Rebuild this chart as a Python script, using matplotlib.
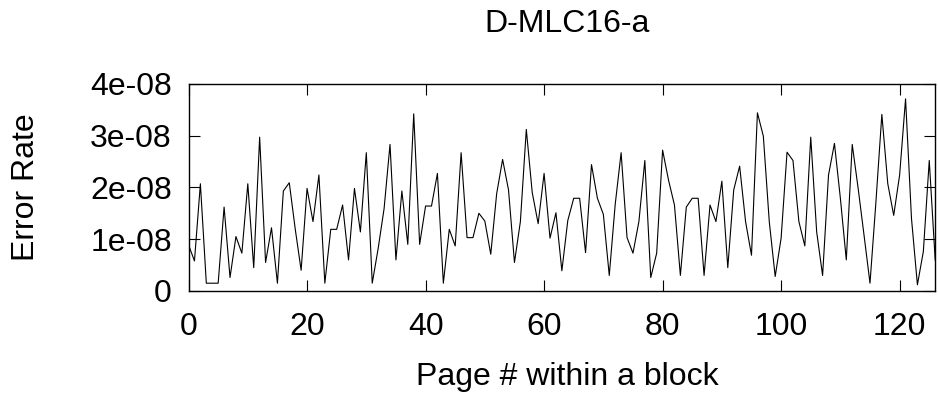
import numpy as np
import matplotlib
matplotlib.use("Agg")
import matplotlib.pyplot as plt

plt.rcParams['font.family'] = ['Liberation Sans', 'DejaVu Sans']

# error rate per page, in units of 1e-8
pages = list(range(127))
err_e8 = [
	0.89, 0.58, 2.07, 0.15, 0.15, 0.15, 1.62, 0.26, 1.05, 0.73,
	2.07, 0.45, 2.97, 0.55, 1.22, 0.15, 1.93, 2.09, 1.20, 0.40,
	1.98, 1.34, 2.24, 0.15, 1.19, 1.19, 1.66, 0.60, 1.98, 1.14,
	2.67, 0.15, 0.82, 1.59, 2.83, 0.60, 1.93, 0.90, 3.42, 0.90,
	1.64, 1.64, 2.27, 0.15, 1.19, 0.87, 2.67, 1.03, 1.03, 1.50,
	1.35, 0.71, 1.88, 2.54, 1.95, 0.55, 1.34, 3.12, 1.90, 1.30,
	2.27, 1.02, 1.51, 0.39, 1.36, 1.79, 1.79, 0.74, 2.44, 1.79,
	1.48, 0.30, 1.67, 2.67, 1.03, 0.73, 1.34, 2.52, 0.26, 0.73,
	2.72, 2.14, 1.66, 0.30, 1.62, 1.79, 1.79, 0.30, 1.66, 1.34,
	2.12, 0.45, 1.95, 2.41, 1.34, 0.69, 3.44, 2.99, 1.34, 0.28,
	1.02, 2.68, 2.52, 1.34, 0.87, 2.97, 1.14, 0.30, 2.24, 2.85,
	1.79, 0.60, 2.83, 1.98, 1.07, 0.15, 1.72, 3.41, 2.07, 1.46,
	2.24, 3.71, 1.40, 0.12, 0.76, 2.52, 0.60,
]
err = np.array(err_e8) * 1e-8

ytick_vals = [0, 1e-8, 2e-8, 3e-8, 4e-8]
ytick_lbls = ["0", "1e-08", "2e-08", "3e-08", "4e-08"]
xtick_vals = [0, 20, 40, 60, 80, 100, 120]

fs = 23

fig = plt.figure(figsize=(9.38, 4.03), dpi=100)
ax = fig.add_axes([0.201, 0.278, 0.796, 0.514])
ax.plot(pages, err, color="black", linewidth=0.8)

ax.set_xlim(0, 126)
ax.set_ylim(0, 4e-8)
ax.set_xticks(xtick_vals)
ax.set_yticks(ytick_vals)
ax.set_yticklabels(ytick_lbls)
ax.tick_params(direction="in", length=8, width=0.8, labelsize=fs,
	top=True, right=True)
ax.tick_params(axis="x", pad=15)
ax.tick_params(axis="y", pad=12)
for s in ax.spines.values():
	s.set_linewidth(1.0)

fig.text(567/938, 1 - 24/403, "D-MLC16-a", ha="center", va="center", fontsize=fs)
fig.text(567/938, 1 - 377/403, "Page # within a block", ha="center", va="center", fontsize=fs)
fig.text(26/938, 1 - 187/403, "Error Rate", ha="center", va="center", fontsize=fs, rotation=90)

fig.savefig("out.png", dpi=100)
